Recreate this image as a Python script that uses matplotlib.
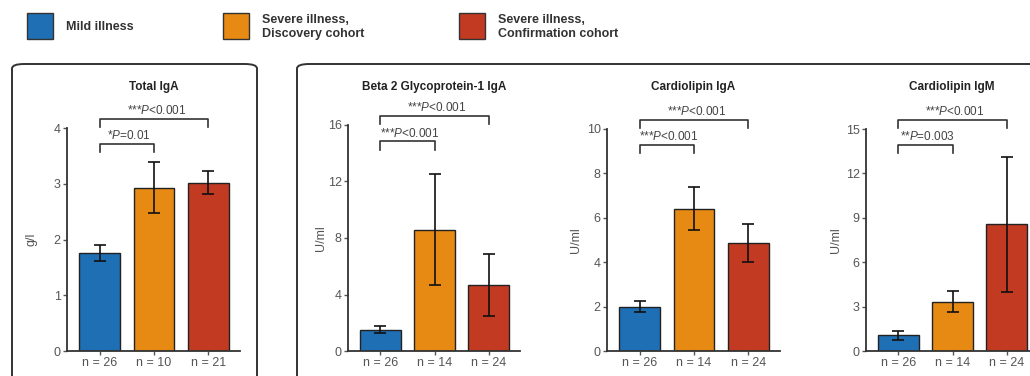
import matplotlib.pyplot as plt
from matplotlib.patches import FancyBboxPatch, Rectangle
import matplotlib.transforms as mtransforms

plt.rcParams['font.family'] = ['Liberation Sans', 'DejaVu Sans']
plt.rcParams['mathtext.fontset'] = 'custom'
plt.rcParams['mathtext.it'] = 'Liberation Sans:italic'
plt.rcParams['mathtext.rm'] = 'Liberation Sans'

groups = ['Mild illness', 'Severe illness,\nDiscovery cohort', 'Severe illness,\nConfirmation cohort']
colors = ['#1f6fb4', '#e68a14', '#c23a22']

titles = ['Total IgA', 'Beta 2 Glycoprotein-1 IgA', 'Cardiolipin IgA', 'Cardiolipin IgM']
units = ['g/l', 'U/ml', 'U/ml', 'U/ml']
n_labels = [['n = 26', 'n = 10', 'n = 21'],
            ['n = 26', 'n = 14', 'n = 24'],
            ['n = 26', 'n = 14', 'n = 24'],
            ['n = 26', 'n = 14', 'n = 24']]
means = [[1.76, 2.93, 3.02],
         [1.49, 8.6, 4.7],
         [2.0, 6.4, 4.86],
         [1.06, 3.34, 8.56]]
errors = [[0.14, 0.46, 0.2],
          [0.25, 3.9, 2.2],
          [0.23, 0.97, 0.86],
          [0.3, 0.72, 4.56]]
yticks = [[0, 1, 2, 3, 4],
          [0, 4, 8, 12, 16],
          [0, 2, 4, 6, 8, 10],
          [0, 3, 6, 9, 12, 15]]
p_low = ['*$\\it{P}$=0.01', '***$\\it{P}$<0.001', '***$\\it{P}$<0.001', '**$\\it{P}$=0.003']
p_high = ['***$\\it{P}$<0.001'] * 4

W, H = 1030, 376
fig = plt.figure(figsize=(W / 100, H / 100), dpi=100)

# axes boxes in pixels: left x, right x, top y (the x axis sits at y=351)
axes_px = [(67, 240, 128), (348, 520, 125), (607, 780, 129), (866, 1038, 129)]
ylabel_px = [38, 327, 582, 842]
base = 351

# rounded frames
for x0, x1 in [(12, 257), (297, 1045)]:
    box = FancyBboxPatch((x0 / W, -20 / H), (x1 - x0) / W, (H - 64 + 20) / H,
                         boxstyle='round,pad=0,rounding_size=0.012',
                         transform=fig.transFigure, fill=False,
                         edgecolor='#333333', linewidth=1.4, clip_on=False)
    fig.patches.append(box)

# legend
legend_x = [27, 223, 459]
for lx, col, lab in zip(legend_x, colors, groups):
    fig.patches.append(Rectangle((lx / W, (H - 39) / H), 26 / W, 26 / H,
                                 transform=fig.transFigure, facecolor=col,
                                 edgecolor='#333333', linewidth=1.0))
    fig.text((lx + 39) / W, (H - 27) / H, lab, fontsize=9, fontweight='bold',
             color='#333333', va='center', ha='left', linespacing=1.15)

for i in range(4):
    x0, x1, top = axes_px[i]
    ax = fig.add_axes([x0 / W, (H - base) / H, (x1 - x0) / W, (base - top) / H])
    x = range(3)
    ax.bar(x, means[i], width=0.75, color=colors, edgecolor='#222222', linewidth=1.0, zorder=2)
    ax.errorbar(x, means[i], yerr=errors[i], fmt='none', ecolor='#111111',
                elinewidth=1.2, capsize=4.5, capthick=1.2, zorder=3)
    ax.set_xlim(-0.6, 2.58)
    ax.set_ylim(0, yticks[i][-1])
    ax.set_yticks(yticks[i])
    ax.set_xticks(list(x))
    ax.set_xticklabels(n_labels[i])
    ax.tick_params(axis='both', labelsize=9, colors='#555555', length=3, width=1, pad=1.5)
    for s in ['top', 'right']:
        ax.spines[s].set_visible(False)
    for s in ['left', 'bottom']:
        ax.spines[s].set_color('#333333')
        ax.spines[s].set_linewidth(1.3)
    ax.set_ylabel(units[i], fontsize=9, color='#555555')
    ax.yaxis.set_label_coords((ylabel_px[i] - x0) / (x1 - x0), 0.5)
    ax.patch.set_visible(False)
    ax.text(0.5, 1 + (top - 87) / (base - top), titles[i], transform=ax.transAxes,
            ha='center', va='center', fontsize=8.5, fontweight='bold', color='#222222')

    # significance brackets
    trans = mtransforms.blended_transform_factory(ax.transData, ax.transAxes)
    for (xa, xb, yb, txt) in [(0, 1, 0.927, p_low[i]), (0, 2, 1.04, p_high[i])]:
        tick = 0.036
        ax.plot([xa, xa, xb, xb], [yb - tick, yb, yb, yb - tick], color='#333333',
                linewidth=1.2, transform=trans, clip_on=False)
        ax.text((xa + xb) / 2 + 0.04, yb + 0.008, txt, transform=trans, ha='center', va='bottom',
                fontsize=8.5, color='#444444')

fig.savefig('out.png', dpi=100)
